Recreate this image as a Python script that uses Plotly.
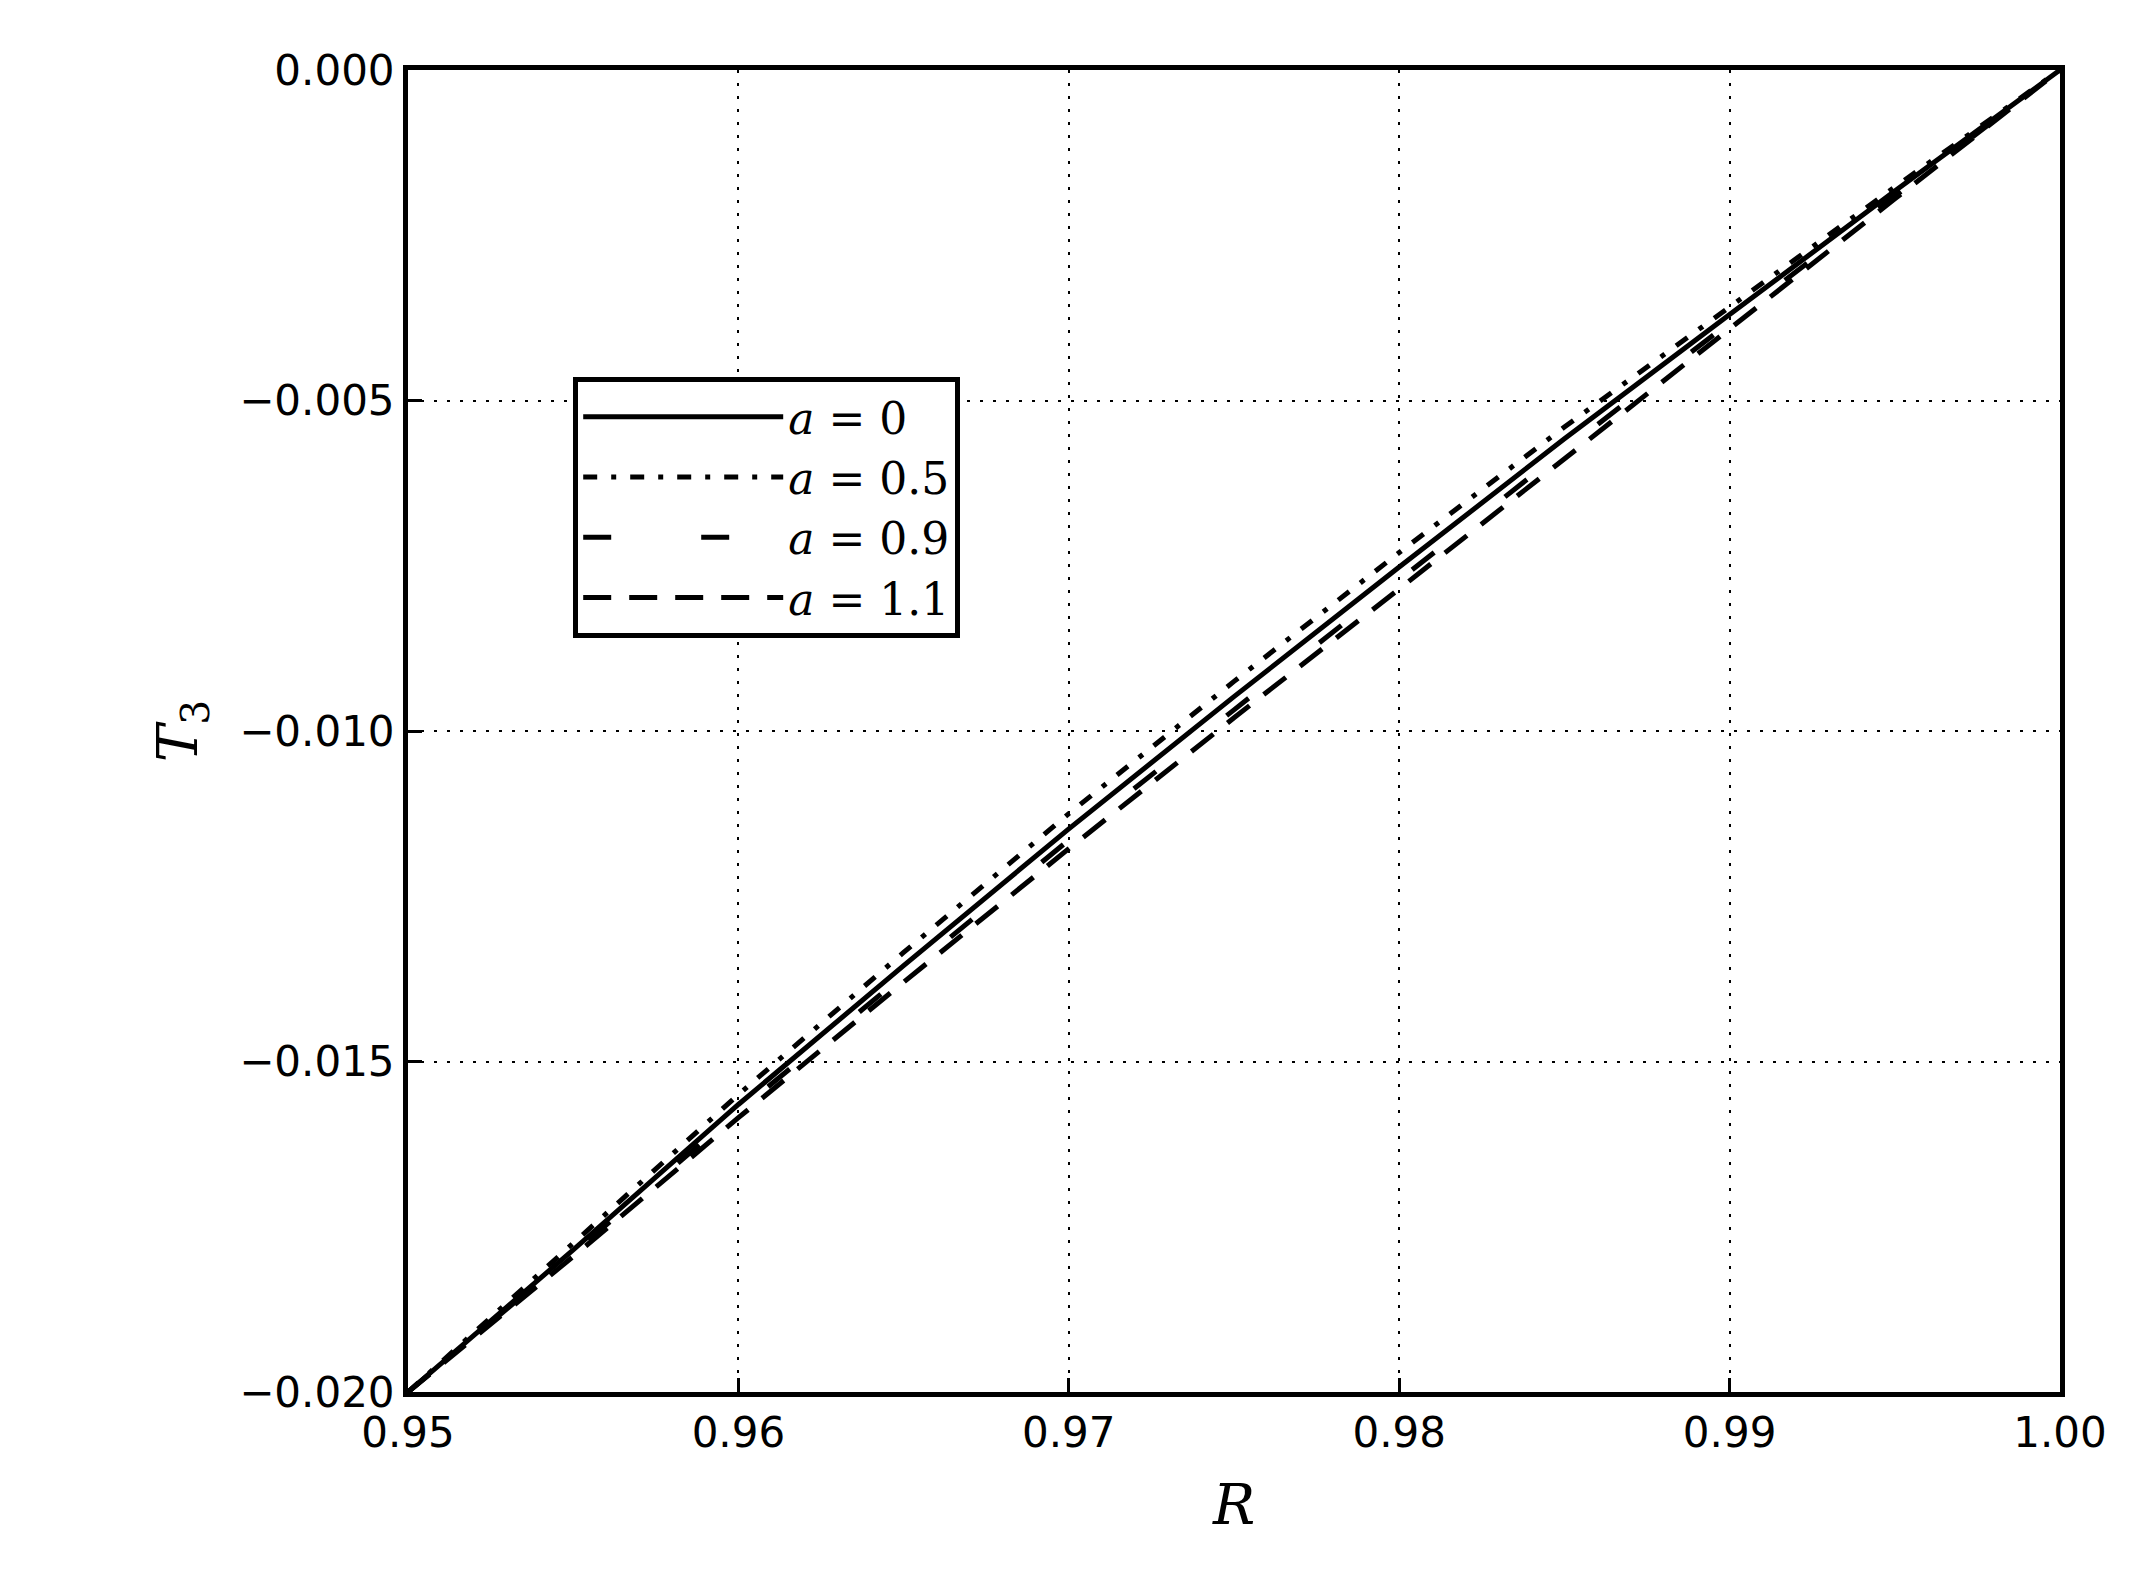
import plotly.graph_objects as go

R = [0.95, 0.955, 0.96, 0.965, 0.97, 0.975, 0.98, 0.985, 0.99, 0.995, 1.0]
t3_a0 = [-0.0200, -0.01785, -0.01565, -0.01355, -0.01148, -0.00948, -0.00752, -0.00558, -0.00370, -0.00183, 0.0]
t3_a05 = [-0.0200, -0.01775, -0.01550, -0.01335, -0.01125, -0.00925, -0.00730, -0.00540, -0.00358, -0.00177, 0.0]
t3_a09 = [-0.0200, -0.01790, -0.01575, -0.01370, -0.01165, -0.00968, -0.00772, -0.00575, -0.00382, -0.00190, 0.0]
t3_a11 = [-0.0200, -0.01795, -0.01585, -0.01380, -0.01178, -0.00980, -0.00785, -0.00588, -0.00390, -0.00195, 0.0]

labels = ["<i>a</i> = 0", "<i>a</i> = 0.5", "<i>a</i> = 0.9", "<i>a</i> = 1.1"]
series = [t3_a0, t3_a05, t3_a09, t3_a11]
dashes = ["solid", "14px,14px,5px,14px", "28px,90px", "28px,18px"]

fig = go.Figure()
for lab, ys, d in zip(labels, series, dashes):
    fig.add_trace(go.Scatter(x=R, y=ys, mode="lines", name=lab,
                             line=dict(color="black", width=5, dash=d)))

axis = dict(showline=True, linecolor="black", linewidth=5, mirror=True,
            ticks="inside", ticklen=14, tickwidth=3, tickcolor="black",
            showgrid=True, gridcolor="black", gridwidth=2, griddash="3px,10px",
            zeroline=False, tickfont=dict(size=42, color="black"))

fig.update_xaxes(range=[0.95, 1.0], tickvals=[0.95, 0.96, 0.97, 0.98, 0.99, 1.0],
                 tickformat=".2f", title=dict(text="<i>R</i>", standoff=30,
                 font=dict(size=56, family="DejaVu Serif")), **axis)
fig.update_yaxes(range=[-0.02, 0.0], tickvals=[-0.02, -0.015, -0.01, -0.005, 0.0],
                 tickformat=".3f", title=dict(text="<i>T</i><sub>3</sub>", standoff=25,
                 font=dict(size=56, family="DejaVu Serif")), **axis)

fig.update_layout(
    width=2138, height=1586, plot_bgcolor="white", paper_bgcolor="white",
    font=dict(family="DejaVu Sans", color="black"),
    margin=dict(l=400, r=86, t=62, b=202),
    showlegend=True,
    legend=dict(x=0.1, y=0.768, xanchor="left", yanchor="top",
                bordercolor="black", borderwidth=5, bgcolor="white",
                font=dict(size=44, family="DejaVu Serif"), itemwidth=200,
                tracegroupgap=10),
)

fig.write_html("out.html")
